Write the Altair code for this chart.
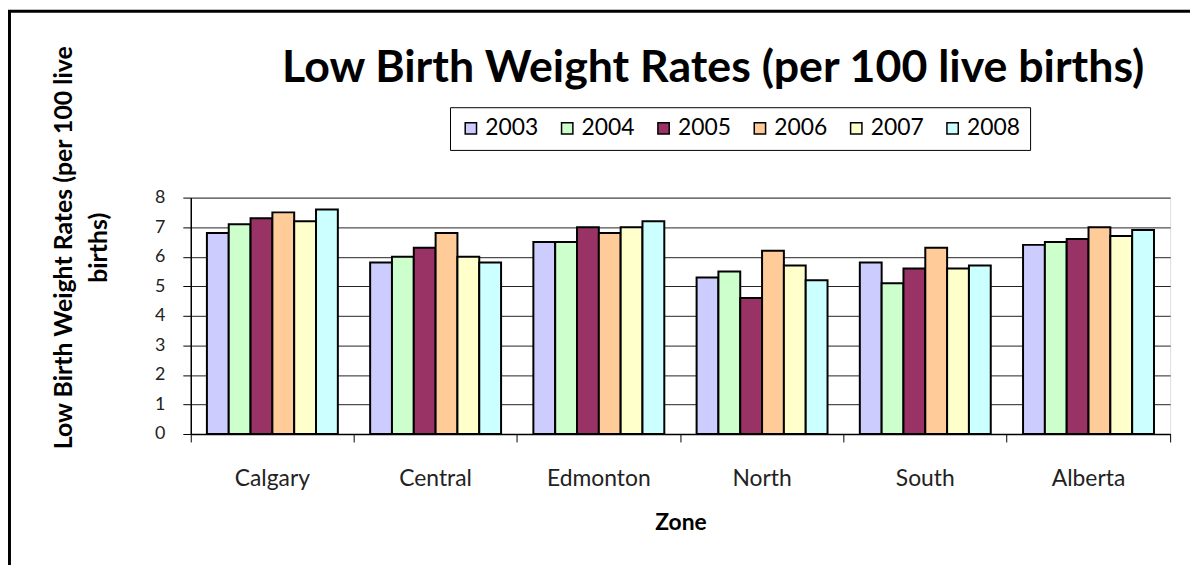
import altair as alt
import pandas as pd

zones = ["Calgary", "Central", "Edmonton", "North", "South", "Alberta"]
years = ["2003", "2004", "2005", "2006", "2007", "2008"]
rates_2003 = [6.8, 5.8, 6.5, 5.3, 5.8, 6.4]
rates_2004 = [7.1, 6.0, 6.5, 5.5, 5.1, 6.5]
rates_2005 = [7.3, 6.3, 7.0, 4.6, 5.6, 6.6]
rates_2006 = [7.5, 6.8, 6.8, 6.2, 6.3, 7.0]
rates_2007 = [7.2, 6.0, 7.0, 5.7, 5.6, 6.7]
rates_2008 = [7.6, 5.8, 7.2, 5.2, 5.7, 6.9]
colors = ["#CCCCFF", "#CCFFCC", "#993366", "#FFCC99", "#FFFFCC", "#CCFFFF"]
y_ticks = [0, 1, 2, 3, 4, 5, 6, 7, 8]

series = [rates_2003, rates_2004, rates_2005, rates_2006, rates_2007, rates_2008]
rows = []
for yr, vals in zip(years, series):
    for z, v in zip(zones, vals):
        rows.append({"zone": z, "year": yr, "rate": v})
df = pd.DataFrame(rows)

FONT = "Lato"

bars = alt.Chart(df).mark_bar(stroke="black", strokeWidth=2).encode(
    x=alt.X("zone:N", sort=zones,
            scale=alt.Scale(paddingInner=0, paddingOuter=0),
            axis=alt.Axis(title="Zone", labelAngle=0, bandPosition=1, tickExtra=True,
                          tickSize=8, tickColor="black", domainColor="black",
                          domainWidth=1.5, labelPadding=26, labelFontSize=23,
                          labelColor="#222", titleFontSize=23, titleFontWeight="bold",
                          titlePadding=21, titleColor="black", grid=False,
                          labelFont=FONT, titleFont=FONT)),
    xOffset=alt.XOffset("year:N", sort=years,
                        scale=alt.Scale(paddingInner=0, paddingOuter=0.74)),
    y=alt.Y("rate:Q",
            scale=alt.Scale(domain=[0, 8], nice=False),
            axis=alt.Axis(title=["Low Birth Weight Rates (per 100 live", "births)"],
                          values=y_ticks, tickSize=8, tickColor="black",
                          domainColor="black", domainWidth=1.5,
                          gridColor="#222", gridWidth=1, labelFontSize=18,
                          labelColor="#222", labelPadding=18,
                          titleFontSize=25, titleFontWeight="bold", titleColor="black",
                          titleFont=FONT, labelFont=FONT, titleLineHeight=35,
                          titleX=-128, titleY=50, titleAngle=-90,
                          titleAlign="center", titleBaseline="middle")),
    fill=alt.Fill("year:N", sort=years,
                  scale=alt.Scale(domain=years, range=colors),
                  legend=alt.Legend(title=None, orient="none", direction="horizontal",
                                    legendX=261, legendY=-91,
                                    strokeColor="black", padding=9.5,
                                    symbolType="square", symbolSize=130,
                                    symbolStrokeColor="black", symbolStrokeWidth=1.5,
                                    labelFontSize=23, labelFont=FONT, labelColor="black",
                                    labelOffset=3, columnPadding=17)),
)

frame_left = alt.Chart(pd.DataFrame({"k": [0]})).mark_rule(
    color="black", strokeWidth=3).encode(
    x=alt.value(-182.5), y=alt.value(-188.5), y2=alt.value(400))
frame_top = alt.Chart(pd.DataFrame({"k": [0]})).mark_rule(
    color="black", strokeWidth=3).encode(
    x=alt.value(-184), x2=alt.value(1100), y=alt.value(-187.5))

chart = alt.layer(bars, frame_left, frame_top).properties(
    width=986, height=238,
    title=alt.TitleParams("Low Birth Weight Rates (per 100 live births)",
                          font=FONT, fontSize=45, fontWeight="bold", color="black",
                          dx=33, offset=-83),
    autosize=alt.AutoSizeParams(type="none"),
    padding={"left": 184, "top": 189, "right": 20, "bottom": 130},
).configure_view(stroke="#999", strokeWidth=1.5).configure(background="white")

chart.save("out.html", embed_options={"renderer": "svg", "actions": False})
